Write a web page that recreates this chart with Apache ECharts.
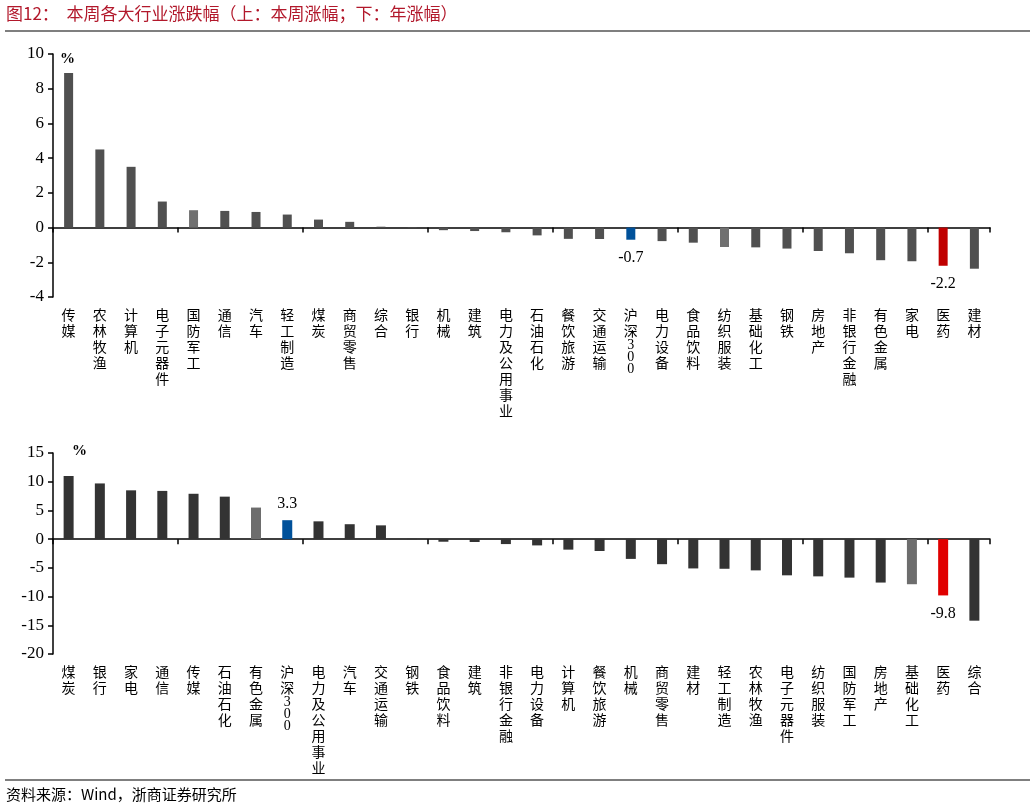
<!DOCTYPE html>
<html><head><meta charset="utf-8">
<script src="https://cdn.jsdelivr.net/npm/echarts@6/dist/echarts.min.js"></script>
<style>html,body{margin:0;padding:0;background:#fff}#c{width:1035px;height:809px}</style>
</head><body><div id="c"></div>
<script>
const weekCats = ['传媒','农林牧渔','计算机','电子元器件','国防军工','通信','汽车','轻工制造','煤炭','商贸零售','综合','银行','机械','建筑','电力及公用事业','石油石化','餐饮旅游','交通运输','沪深300','电力设备','食品饮料','纺织服装','基础化工','钢铁','房地产','非银行金融','有色金属','家电','医药','建材'];
const weekVals = [8.9,4.5,3.5,1.5,1.0,0.96,0.9,0.75,0.46,0.33,0.05,0.03,-0.15,-0.2,-0.27,-0.45,-0.65,-0.66,-0.7,-0.78,-0.87,-1.12,-1.14,-1.21,-1.35,-1.48,-1.88,-1.94,-2.2,-2.37];
const yearCats = ['煤炭','银行','家电','通信','传媒','石油石化','有色金属','沪深300','电力及公用事业','汽车','交通运输','钢铁','食品饮料','建筑','非银行金融','电力设备','计算机','餐饮旅游','机械','商贸零售','建材','轻工制造','农林牧渔','电子元器件','纺织服装','国防军工','房地产','基础化工','医药','综合'];
const yearVals = [11.0,9.7,8.5,8.4,7.9,7.4,5.5,3.3,3.1,2.6,2.4,0.05,-0.45,-0.5,-0.86,-1.09,-1.83,-2.06,-3.44,-4.36,-5.1,-5.16,-5.44,-6.3,-6.48,-6.7,-7.56,-7.85,-9.8,-14.2];
const weekTicks = {min:-4,max:10,interval:2};
const yearTicks = {min:-20,max:15,interval:5};
const weekLight = ['国防军工','纺织服装'];
const yearLight = ['有色金属','基础化工'];
const labelled = ['沪深300','医药'];

const SERIF = '"Liberation Serif","Times New Roman",serif';
const CJK = '"Noto Sans CJK SC","Liberation Serif",serif';

function vert(s){
  const out = [];
  for (const ch of s) {
    if (/[0-9]/.test(ch)) out.push('{d|' + ch + '}');
    else out.push(ch);
  }
  return out.join('\n');
}
function colorFor(cat, light, dark, lightC, red){
  if(cat==='沪深300') return '#00519a';
  if(cat==='医药') return red;
  if(light.includes(cat)) return lightC;
  return dark;
}
function buildData(cats, vals, light, dark, lightC, red){
  return vals.map((v,i)=>{
    const c = cats[i];
    const item = {value:v, itemStyle:{color:colorFor(c,light,dark,lightC,red)}};
    if(labelled.includes(c)){
      item.label = {show:true, position: v>=0?'top':'bottom', distance: v>=0?8:10,
        formatter: ()=>v.toFixed(1), fontFamily:SERIF, fontSize:16, color:'#000'};
    }
    return item;
  });
}

const grids = [
  {left:53, right:45, top:54, height:243},
  {left:53, right:45, top:453, height:201}
];
function xAxes(gi, cats){
  return [
    {type:'category', gridIndex:gi, data:cats, axisLine:{onZero:true, lineStyle:{color:'#000',width:1.5}},
     axisTick:{show:true, inside:false, length:5, lineStyle:{color:'#000',width:1.5}},
     axisLabel:{show:false}},
    {type:'category', gridIndex:gi, data:cats, position:'bottom', axisLine:{show:false, onZero:false},
     axisTick:{show:false},
     axisLabel:{show:true, interval:0, margin:10, fontFamily:CJK, fontSize:14, lineHeight:16, color:'#000',
       verticalAlign:'top', formatter:v=>vert(v),
       rich:{d:{fontFamily:SERIF, fontSize:14, lineHeight:12, color:'#000'}}}}
  ];
}
function yAxis(gi, t){
  return {type:'value', gridIndex:gi, min:t.min, max:t.max, interval:t.interval,
    axisLine:{show:true, lineStyle:{color:'#000',width:1.5}},
    axisTick:{show:true, length:5, lineStyle:{color:'#000',width:1.5}},
    splitLine:{show:false},
    axisLabel:{fontFamily:SERIF, fontSize:17, color:'#000', margin:9}};
}

const chart = echarts.init(document.getElementById('c'));
chart.setOption({
  animation:false,
  backgroundColor:'#fff',
  grid:grids,
  xAxis:[...xAxes(0,weekCats), ...xAxes(1,yearCats)],
  yAxis:[yAxis(0,weekTicks), yAxis(1,yearTicks)],
  series:[
    {type:'bar', xAxisIndex:0, yAxisIndex:0, barWidth:9, data:buildData(weekCats,weekVals,weekLight,'#505050','#707070','#c00000')},
    {type:'bar', xAxisIndex:2, yAxisIndex:1, barWidth:10, data:buildData(yearCats,yearVals,yearLight,'#333333','#6d6d6d','#e00000')}
  ],
  graphic:[
    {type:'text', left:6, top:5, style:{text:'图12：  本周各大行业涨跌幅（上：本周涨幅；下：年涨幅）', font:'17px '+CJK, fill:'#b2182b'}},
    {type:'line', shape:{x1:5,y1:31,x2:1030,y2:31}, style:{stroke:'#000',lineWidth:1.2}},
    {type:'text', left:60, top:52, style:{text:'%', font:'bold 15px '+SERIF, fill:'#000'}},
    {type:'text', left:72, top:444, style:{text:'%', font:'bold 15px '+SERIF, fill:'#000'}},
    {type:'line', shape:{x1:5,y1:780,x2:1030,y2:780}, style:{stroke:'#000',lineWidth:1.2}},
    {type:'text', left:6, top:787, style:{text:'资料来源：Wind，浙商证券研究所', font:'15px '+CJK, fill:'#000'}}
  ]
});
</script></body></html>
